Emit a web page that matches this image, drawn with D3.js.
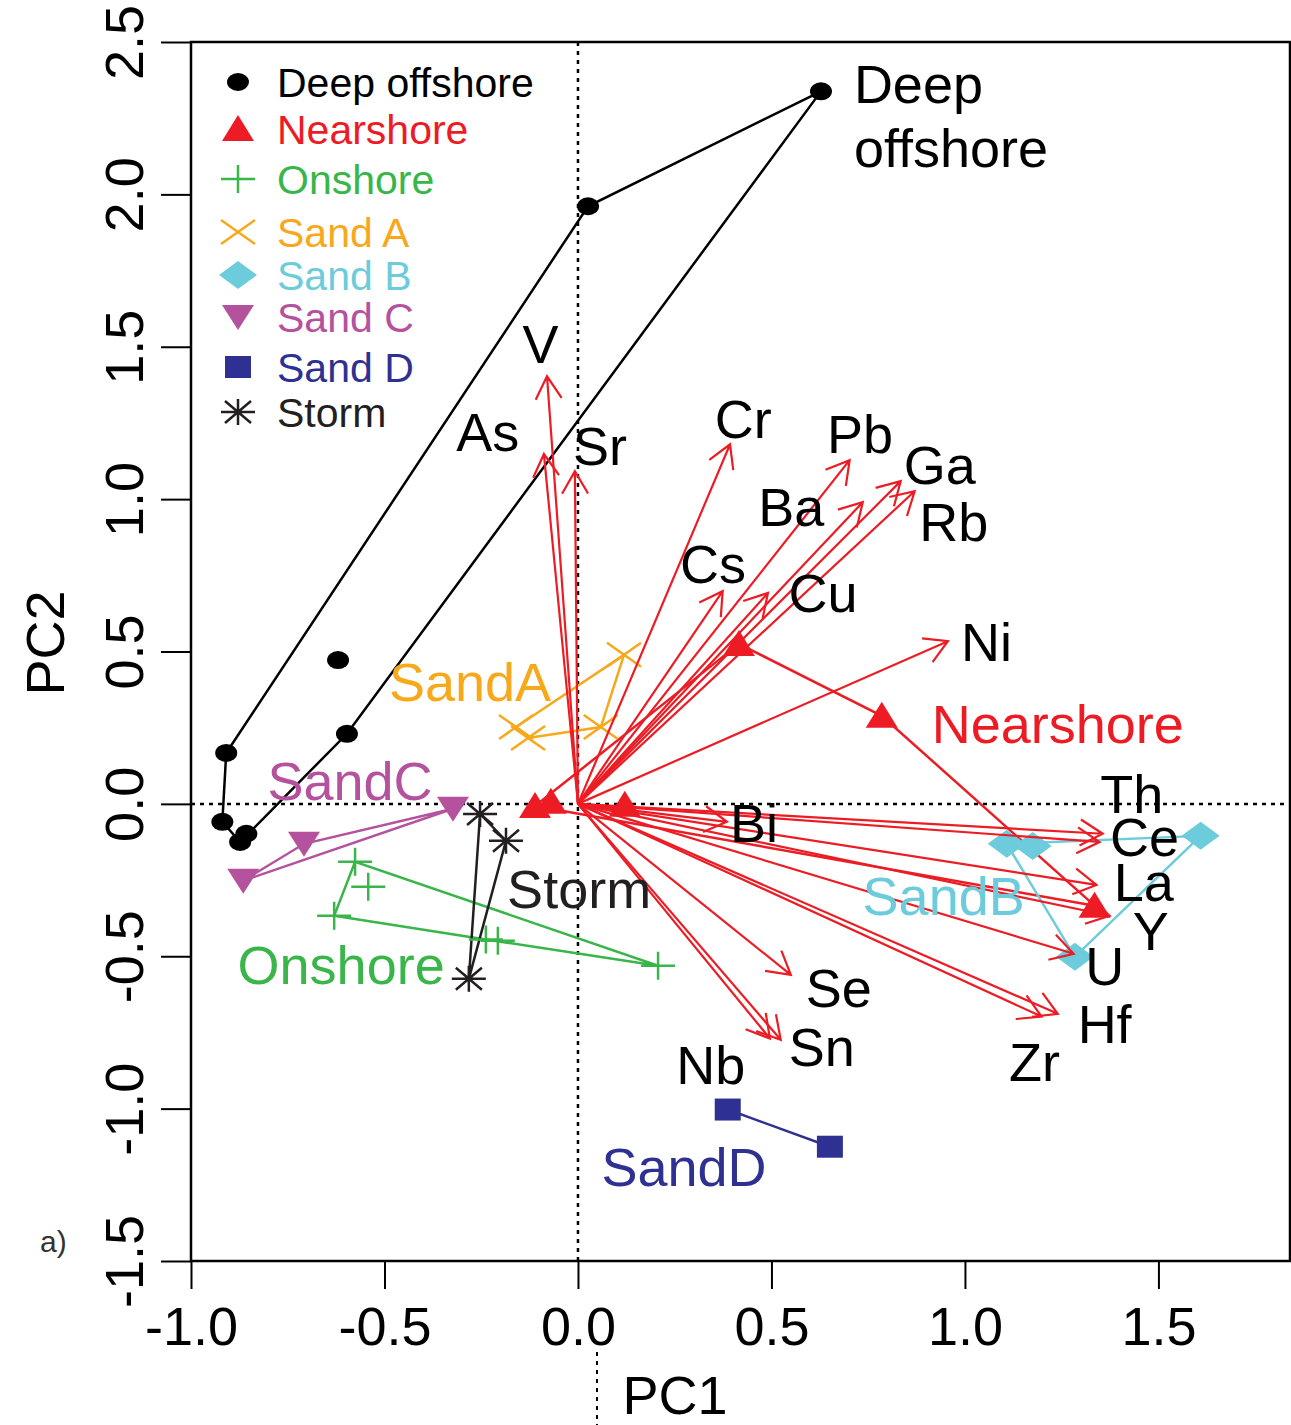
<!DOCTYPE html>
<html>
<head>
<meta charset="utf-8">
<script src="https://cdn.jsdelivr.net/npm/d3@7"></script>
<style>
  body { margin: 0; background: #fff; }
  svg text { font-family: "Liberation Sans", Arial, sans-serif; }
</style>
</head>
<body>
<div id="chart"></div>
<script>
// --- sample scores (PC1, PC2) ---
const deepOffshore = [[0.628, 2.338], [0.026, 1.961], [-0.620, 0.472], [-0.597, 0.230],
                      [-0.909, 0.167], [-0.919, -0.059], [-0.873, -0.125], [-0.857, -0.098]];
const nearshore = [[0.416, 0.525], [0.785, 0.289], [1.335, -0.334], [-0.111, -0.007],
                   [-0.070, 0.007], [0.121, -0.003]];
const onshore = [[-0.576, -0.190], [-0.542, -0.272], [-0.630, -0.367], [-0.238, -0.445],
                 [-0.207, -0.449], [0.207, -0.531]];
const sandA = [[0.119, 0.489], [-0.160, 0.252], [-0.129, 0.216], [0.059, 0.252]];
const sandB = [[1.108, -0.131], [1.175, -0.138], [1.609, -0.105], [1.284, -0.502]];
const sandC = [[-0.323, -0.016], [-0.708, -0.131], [-0.865, -0.252]];
const sandD = [[0.387, -1.003], [0.651, -1.125]];
const storm = [[-0.253, -0.033], [-0.186, -0.121], [-0.282, -0.574]];

// --- element loadings ---
const elements = ["V", "As", "Sr", "Cr", "Pb", "Ga", "Rb", "Ba", "Cs", "Cu", "Ni", "Bi",
                  "Th", "Ce", "La", "Y", "U", "Hf", "Zr", "Se", "Sn", "Nb"];
const loadX = [-0.080, -0.088, -0.008, 0.393, 0.702, 0.834, 0.870, 0.736, 0.374, 0.491, 0.956, 0.385,
               1.356, 1.348, 1.340, 1.374, 1.281, 1.240, 1.198, 0.550, 0.524, 0.496];
const loadY = [1.403, 1.148, 1.092, 1.180, 1.128, 1.059, 1.026, 0.990, 0.698, 0.692, 0.534, -0.059,
               -0.098, -0.125, -0.266, -0.367, -0.492, -0.689, -0.698, -0.561, -0.774, -0.770];
// where each element name sits (data units, text centre)
const elemLabelX = [-0.097, -0.233, 0.057, 0.427, 0.729, 0.935, 0.971, 0.551, 0.349, 0.633, 1.056, 0.455,
                    1.431, 1.464, 1.462, 1.480, 1.361, 1.361, 1.180, 0.674, 0.630, 0.343];
const elemLabelY = [1.511, 1.223, 1.175, 1.264, 1.215, 1.115, 0.927, 0.977, 0.790, 0.695, 0.531, -0.062,
                    0.033, -0.108, -0.256, -0.416, -0.531, -0.721, -0.846, -0.603, -0.797, -0.856];

// --- groups ---
const groupNames = ["Deep offshore", "Nearshore", "Onshore", "Sand A", "Sand B", "Sand C", "Sand D", "Storm"];
const groupColors = ["#000000", "#ED1C24", "#39B54A", "#F7A81B", "#6CCCDB", "#B5529E", "#2E3192", "#231F20"];
const groupSymbols = ["circle", "triUp", "plus", "cross", "diamond", "triDown", "square", "asterisk"];
const groupData = [deepOffshore, nearshore, onshore, sandA, sandB, sandC, sandD, storm];

// group annotations inside the plot
const groupLabels = ["Deep", "offshore", "Nearshore", "SandA", "SandB", "SandC", "SandD", "Storm", "Onshore"];
const groupLabelColor = [0, 0, 1, 3, 4, 5, 6, 7, 2];
const groupLabelX = [0.713, 0.713, 1.240, -0.279, 0.945, -0.589, 0.274, 0.003, -0.612];
const groupLabelY = [2.364, 2.154, 0.262, 0.403, -0.302, 0.075, -1.190, -0.279, -0.528];
const groupLabelAnchor = ["start", "start", "middle", "middle", "middle", "middle", "middle", "middle", "middle"];

const xTicks = [-1.0, -0.5, 0.0, 0.5, 1.0, 1.5];
const yTicks = [-1.5, -1.0, -0.5, 0.0, 0.5, 1.0, 1.5, 2.0, 2.5];

// --- setup ---
const W = 1291, H = 1425;
const svg = d3.select("#chart").append("svg").attr("width", W).attr("height", H);
svg.append("rect").attr("width", W).attr("height", H).attr("fill", "#fff");

const x = d3.scaleLinear().domain([-1.0, 1.84]).range([191, 1290]);
const y = d3.scaleLinear().domain([-1.5, 2.5]).range([1261, 42]);

// symbol paths (wide-ish, like the original)
function symbolPath(kind) {
    switch (kind) {
        case "triUp": return "M0,-14L16,12L-16,12Z";
        case "triDown": return "M0,13L16,-12L-16,-12Z";
        case "diamond": return "M0,-14L19,0L0,14L-19,0Z";
        case "square": return "M-13,-11H13V11H-13Z";
        case "plus": return "M-17,0H17M0,-14V14";
        case "cross": return "M-17,-12L17,12M-17,12L17,-12";
        case "asterisk": return "M-17,0H17M0,-13V13M-13,-11L13,11M-13,11L13,-11";
    }
    return null;
}
function drawSymbol(g, kind, color) {
    if (kind === "circle") {
        g.append("ellipse").attr("rx", 11).attr("ry", 9).attr("fill", color);
        return;
    }
    const filled = ["triUp", "triDown", "diamond", "square"].includes(kind);
    g.append("path").attr("d", symbolPath(kind))
        .attr("fill", filled ? color : "none")
        .attr("stroke", filled ? "none" : color)
        .attr("stroke-width", 2.5);
}

// --- dotted zero lines ---
svg.append("line")
    .attr("x1", x(-1.0)).attr("x2", x(1.84)).attr("y1", y(0)).attr("y2", y(0))
    .attr("stroke", "#000").attr("stroke-width", 2.5).attr("stroke-dasharray", "4 5");
svg.append("line")
    .attr("x1", x(0)).attr("x2", x(0)).attr("y1", y(2.5)).attr("y2", y(-1.5))
    .attr("stroke", "#000").attr("stroke-width", 2.5).attr("stroke-dasharray", "4 5");
// stray bit of the zero line that shows under the axis
svg.append("line")
    .attr("x1", x(0) + 19).attr("x2", x(0) + 19).attr("y1", 1352).attr("y2", H)
    .attr("stroke", "#000").attr("stroke-width", 2).attr("stroke-dasharray", "4 5");

// --- hulls ---
const hullG = svg.append("g");
groupData.forEach((pts, i) => {
    const px = pts.map(d => [x(d[0]), y(d[1])]);
    const hull = px.length >= 3 ? d3.polygonHull(px) : px;
    hullG.append("path")
        .attr("d", d3.line()(hull) + (px.length >= 3 ? "Z" : ""))
        .attr("fill", "none")
        .attr("stroke", groupColors[i])
        .attr("stroke-width", 2.5);
});

// --- points ---
const ptG = svg.append("g");
groupData.forEach((pts, i) => {
    pts.forEach(d => {
        const g = ptG.append("g").attr("transform", `translate(${x(d[0])},${y(d[1])})`);
        drawSymbol(g, groupSymbols[i], groupColors[i]);
    });
});

// --- loading arrows ---
const arrowG = svg.append("g").attr("stroke", "#ED1C24").attr("stroke-width", 2.2).attr("fill", "none");
const headLen = 26, headAng = Math.PI / 6;
elements.forEach((el, i) => {
    const x0 = x(0), y0 = y(0), x1 = x(loadX[i]), y1 = y(loadY[i]);
    const a = Math.atan2(y1 - y0, x1 - x0);
    const hx1 = x1 - headLen * Math.cos(a - headAng), hy1 = y1 - headLen * Math.sin(a - headAng);
    const hx2 = x1 - headLen * Math.cos(a + headAng), hy2 = y1 - headLen * Math.sin(a + headAng);
    arrowG.append("path")
        .attr("d", `M${x0},${y0}L${x1},${y1}M${hx1},${hy1}L${x1},${y1}L${hx2},${hy2}`);
});

// --- element labels ---
svg.append("g").selectAll("text")
    .data(elements)
    .enter().append("text")
    .attr("x", (d, i) => x(elemLabelX[i]))
    .attr("y", (d, i) => y(elemLabelY[i]))
    .attr("dy", "0.36em")
    .attr("text-anchor", "middle")
    .attr("font-size", 54)
    .attr("fill", "#000")
    .text(d => d);

// --- group labels ---
svg.append("g").selectAll("text")
    .data(groupLabels)
    .enter().append("text")
    .attr("x", (d, i) => x(groupLabelX[i]))
    .attr("y", (d, i) => y(groupLabelY[i]))
    .attr("dy", "0.36em")
    .attr("text-anchor", (d, i) => groupLabelAnchor[i])
    .attr("font-size", 54)
    .attr("fill", (d, i) => groupColors[groupLabelColor[i]])
    .text(d => d);

// --- legend ---
const legendY = [82, 129, 179, 232, 275, 317, 367, 412];
const legend = svg.append("g");
groupNames.forEach((name, i) => {
    const g = legend.append("g").attr("transform", `translate(238,${legendY[i]})`);
    drawSymbol(g, groupSymbols[i], groupColors[i]);
    g.append("text")
        .attr("x", 39).attr("dy", "0.36em")
        .attr("font-size", 41)
        .attr("fill", groupColors[i])
        .text(name);
});

// --- frame & axes ---
svg.append("rect")
    .attr("x", x(-1.0)).attr("y", y(2.5))
    .attr("width", x(1.84) - x(-1.0)).attr("height", y(-1.5) - y(2.5))
    .attr("fill", "none").attr("stroke", "#000").attr("stroke-width", 2.5);

const xAxisG = svg.append("g").attr("transform", `translate(0,${y(-1.5)})`)
    .call(d3.axisBottom(x).tickValues(xTicks).tickSize(28).tickPadding(18).tickFormat(d3.format(".1f")));
const yAxisG = svg.append("g").attr("transform", `translate(${x(-1.0)},0)`)
    .call(d3.axisLeft(y).tickValues(yTicks).tickSize(30).tickFormat(d3.format(".1f")));

[xAxisG, yAxisG].forEach(g => {
    g.select(".domain").remove();
    g.selectAll(".tick line").attr("stroke", "#000").attr("stroke-width", 2);
    g.selectAll(".tick text").attr("font-size", 54).attr("fill", "#000")
        .style("font-family", "'Liberation Sans', Arial, sans-serif");
});
xAxisG.selectAll(".tick text").text(d => d3.format(".1f")(d).replace("−", "-"));
yAxisG.selectAll(".tick text")
    .text(d => d3.format(".1f")(d).replace("−", "-"))
    .attr("transform", "rotate(-90)")
    .attr("x", 0).attr("y", -48).attr("dy", 0)
    .attr("text-anchor", "middle");

// axis titles
svg.append("text")
    .attr("x", 675).attr("y", 1414)
    .attr("text-anchor", "middle").attr("font-size", 54).text("PC1");
svg.append("text")
    .attr("transform", "translate(64,643) rotate(-90)")
    .attr("text-anchor", "middle").attr("font-size", 54).text("PC2");

// panel tag
svg.append("text")
    .attr("x", 40).attr("y", 1252)
    .attr("font-size", 30).attr("fill", "#333").text("a)");
</script>
</body>
</html>
